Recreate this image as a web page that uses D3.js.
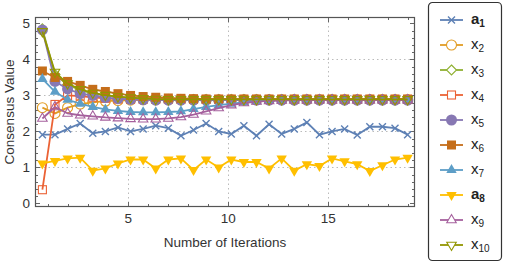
<!DOCTYPE html>
<html>
<head>
<meta charset="utf-8">
<script src="https://cdn.jsdelivr.net/npm/d3@7/dist/d3.min.js"></script>
<style>
  html, body { margin: 0; padding: 0; background: #fff; }
  svg { display: block; font-family: "Liberation Sans", Arial, sans-serif; }
</style>
</head>
<body>
<div id="chart"></div>
<script>
// x positions of the samples
var iterations = [0.7, 1.33, 1.96, 2.59, 3.22, 3.85, 4.48, 5.11, 5.74, 6.37, 7.0, 7.63, 8.26, 8.89, 9.52,
  10.15, 10.78, 11.41, 12.04, 12.67, 13.3, 13.93, 14.56, 15.19, 15.82, 16.45, 17.08, 17.71, 18.34, 18.97];

var a1 = [1.91, 1.91, 2.07, 2.22, 1.95, 2.0, 2.11, 2.0, 2.07, 2.16, 2.09, 1.88, 2.04, 2.22, 2.0,
  1.93, 2.16, 1.88, 2.2, 1.93, 2.07, 2.25, 1.91, 2.0, 2.07, 1.9, 2.13, 2.13, 2.09, 1.91];
var x2 = [2.66, 2.5, 2.66, 2.76, 2.81, 2.84, 2.86, 2.87, 2.88, 2.88, 2.88, 2.88, 2.88, 2.88, 2.88,
  2.88, 2.88, 2.88, 2.88, 2.88, 2.88, 2.88, 2.88, 2.88, 2.88, 2.88, 2.88, 2.88, 2.88, 2.88];
var x3 = [4.85, 3.58, 3.3, 3.15, 3.06, 3.0, 2.96, 2.93, 2.91, 2.9, 2.89, 2.89, 2.89, 2.89, 2.89,
  2.89, 2.89, 2.89, 2.89, 2.89, 2.89, 2.89, 2.89, 2.89, 2.89, 2.89, 2.89, 2.89, 2.89, 2.89];
var x4 = [0.38, 2.75, 3.0, 2.98, 2.95, 2.92, 2.9, 2.89, 2.89, 2.89, 2.89, 2.89, 2.89, 2.89, 2.89,
  2.89, 2.89, 2.89, 2.89, 2.89, 2.89, 2.89, 2.89, 2.89, 2.89, 2.89, 2.89, 2.89, 2.89, 2.89];
var x5 = [4.82, 3.39, 3.18, 3.05, 3.0, 2.94, 2.91, 2.89, 2.88, 2.87, 2.87, 2.87, 2.87, 2.87, 2.87,
  2.87, 2.87, 2.87, 2.87, 2.87, 2.87, 2.87, 2.87, 2.87, 2.87, 2.87, 2.87, 2.87, 2.87, 2.87];
var x6 = [3.68, 3.5, 3.39, 3.28, 3.17, 3.11, 3.05, 3.0, 2.97, 2.95, 2.93, 2.92, 2.91, 2.9, 2.9,
  2.9, 2.9, 2.9, 2.9, 2.9, 2.9, 2.9, 2.9, 2.9, 2.9, 2.9, 2.9, 2.9, 2.9, 2.9];
var x7 = [3.46, 3.1, 2.88, 2.77, 2.68, 2.61, 2.57, 2.54, 2.53, 2.53, 2.54, 2.56, 2.62, 2.68, 2.73,
  2.77, 2.81, 2.84, 2.86, 2.87, 2.87, 2.87, 2.87, 2.87, 2.87, 2.87, 2.87, 2.87, 2.87, 2.87];
var a8 = [1.11, 1.18, 1.25, 1.27, 0.91, 0.97, 1.11, 1.22, 1.22, 0.97, 1.22, 1.25, 0.93, 1.22, 1.0,
  1.22, 1.15, 1.15, 0.97, 1.25, 0.91, 1.09, 1.04, 1.25, 1.17, 1.09, 0.9, 1.06, 1.22, 1.27];
var x9 = [2.36, 2.68, 2.5, 2.45, 2.42, 2.39, 2.37, 2.35, 2.34, 2.34, 2.36, 2.4, 2.47, 2.56, 2.65,
  2.73, 2.79, 2.83, 2.85, 2.86, 2.87, 2.87, 2.87, 2.87, 2.87, 2.87, 2.87, 2.87, 2.87, 2.87];
var x10 = [4.78, 3.65, 3.33, 3.17, 3.07, 3.01, 2.97, 2.94, 2.92, 2.9, 2.89, 2.89, 2.89, 2.89, 2.89,
  2.89, 2.89, 2.89, 2.89, 2.89, 2.89, 2.89, 2.89, 2.89, 2.89, 2.89, 2.89, 2.89, 2.89, 2.89];

var seriesValues = [a1, x2, x3, x4, x5, x6, x7, a8, x9, x10];
var seriesNames = [['a', '1'], ['x', '2'], ['x', '3'], ['x', '4'], ['x', '5'], ['x', '6'], ['x', '7'], ['a', '8'], ['x', '9'], ['x', '10']];
var xTicks = [5, 10, 15];
var yTicks = [0, 1, 2, 3, 4, 5];

var colors = ['#5E81B5', '#E19C24', '#8FB032', '#EB6235', '#8778B3', '#C56E1A', '#5D9EC7', '#FFBF00', '#A5609D', '#929600'];
var markers = ['cross', 'ocircle', 'odiamond', 'osquare', 'circle', 'square', 'tri', 'dtri', 'otri', 'odtri'];

var W = 507, H = 266;
var L = 35, R = 415, T = 17, B = 207;

var svg = d3.select('#chart').append('svg').attr('width', W).attr('height', H);

var x = d3.scaleLinear().domain([0.33, 19.34]).range([L, R]);
var y = d3.scaleLinear().domain([-0.1, 5.18]).range([B, T]);

// grid
var grid = svg.append('g').attr('stroke', '#bbb').attr('stroke-width', 1).attr('stroke-dasharray', '1.5,3');
xTicks.forEach(function (t) {
  grid.append('line').attr('x1', Math.round(x(t)) + 0.5).attr('x2', Math.round(x(t)) + 0.5).attr('y1', T).attr('y2', B);
});
[1, 2, 3, 4].forEach(function (t) {
  grid.append('line').attr('y1', Math.round(y(t)) + 0.5).attr('y2', Math.round(y(t)) + 0.5).attr('x1', L).attr('x2', R);
});

// frame ticks (all four sides, pointing inwards)
var tk = svg.append('g').attr('stroke', '#666').attr('stroke-width', 1);
d3.range(1, 20).forEach(function (t) {
  var major = t % 5 === 0, len = major ? 5 : 3, px = Math.round(x(t)) + 0.5;
  tk.append('line').attr('x1', px).attr('x2', px).attr('y1', B).attr('y2', B - len);
  tk.append('line').attr('x1', px).attr('x2', px).attr('y1', T).attr('y2', T + len);
});
d3.range(0, 26).forEach(function (i) {
  var t = i * 0.2, major = i % 5 === 0, len = major ? 5 : 3, py = Math.round(y(t)) + 0.5;
  tk.append('line').attr('y1', py).attr('y2', py).attr('x1', L).attr('x2', L + len);
  tk.append('line').attr('y1', py).attr('y2', py).attr('x1', R).attr('x2', R - len);
});

svg.append('rect').attr('x', L + 0.5).attr('y', T + 0.5).attr('width', R - L - 1).attr('height', B - T - 1)
  .attr('fill', 'none').attr('stroke', '#555').attr('stroke-width', 1.2);

// tick labels
svg.append('g').selectAll('text').data(xTicks).join('text')
  .attr('x', function (d) { return x(d); }).attr('y', 223)
  .attr('text-anchor', 'middle').attr('font-size', 13.5).attr('fill', '#333')
  .text(function (d) { return d; });
svg.append('g').selectAll('text').data(yTicks).join('text')
  .attr('x', 30).attr('y', function (d) { return y(d) + 4.5; })
  .attr('text-anchor', 'end').attr('font-size', 13.5).attr('fill', '#333')
  .text(function (d) { return d; });

svg.append('text').attr('x', 225).attr('y', 247).attr('text-anchor', 'middle')
  .attr('font-size', 13.5).attr('fill', '#333').text('Number of Iterations');
svg.append('text').attr('transform', 'translate(14,112) rotate(-90)').attr('text-anchor', 'middle')
  .attr('font-size', 13.5).attr('fill', '#333').text('Consensus Value');

function drawMarker(g, type, color, openFill) {
  var sq = Math.sqrt(3);
  switch (type) {
    case 'cross':
      g.append('path').attr('d', 'M-3.5,-3.5L3.5,3.5M-3.5,3.5L3.5,-3.5').attr('stroke', color).attr('stroke-width', 1.4).attr('fill', 'none');
      break;
    case 'ocircle':
      g.append('circle').attr('r', 5).attr('fill', openFill).attr('stroke', color).attr('stroke-width', 1.1);
      break;
    case 'circle':
      g.append('circle').attr('r', 5.5).attr('fill', color);
      break;
    case 'osquare':
      g.append('rect').attr('x', -4).attr('y', -4).attr('width', 8).attr('height', 8).attr('fill', openFill).attr('stroke', color).attr('stroke-width', 1.1);
      break;
    case 'square':
      g.append('rect').attr('x', -4.5).attr('y', -4.5).attr('width', 9).attr('height', 9).attr('fill', color);
      break;
    case 'odiamond':
      g.append('path').attr('d', 'M0,-5L5,0L0,5L-5,0Z').attr('fill', openFill).attr('stroke', color).attr('stroke-width', 1.1);
      break;
    case 'tri':
      g.append('path').attr('d', 'M0,-6L' + (3 * sq) + ',3L' + (-3 * sq) + ',3Z').attr('fill', color);
      break;
    case 'dtri':
      g.append('path').attr('d', 'M0,6L' + (3 * sq) + ',-3L' + (-3 * sq) + ',-3Z').attr('fill', color);
      break;
    case 'otri':
      g.append('path').attr('d', 'M0,-5.5L' + (2.75 * sq) + ',2.75L' + (-2.75 * sq) + ',2.75Z').attr('fill', openFill).attr('stroke', color).attr('stroke-width', 1.1);
      break;
    case 'odtri':
      g.append('path').attr('d', 'M0,5.5L' + (2.75 * sq) + ',-2.75L' + (-2.75 * sq) + ',-2.75Z').attr('fill', openFill).attr('stroke', color).attr('stroke-width', 1.1);
      break;
  }
}

var line = d3.line().x(function (d, i) { return x(iterations[i]); }).y(function (d) { return y(d); });

var plot = svg.append('g');
seriesValues.forEach(function (vals, s) {
  var g = plot.append('g');
  g.append('path').attr('d', line(vals)).attr('fill', 'none').attr('stroke', colors[s]).attr('stroke-width', 1.8);
  vals.forEach(function (v, i) {
    var m = g.append('g').attr('transform', 'translate(' + x(iterations[i]) + ',' + y(v) + ')');
    drawMarker(m, markers[s], colors[s], 'none');
  });
});

// legend
var lg = svg.append('g');
lg.append('rect').attr('x', 428.5).attr('y', 2.5).attr('width', 73).attr('height', 258).attr('rx', 4)
  .attr('fill', '#fff').attr('stroke', '#333').attr('stroke-width', 1.2);
seriesNames.forEach(function (nm, s) {
  var cy = 20 + s * 25;
  var row = lg.append('g').attr('transform', 'translate(0,' + cy + ')');
  row.append('line').attr('x1', 440).attr('x2', 463).attr('y1', 0).attr('y2', 0).attr('stroke', colors[s]).attr('stroke-width', 1.8);
  drawMarker(row.append('g').attr('transform', 'translate(451.5,0)'), markers[s], colors[s], '#fff');
  var t = row.append('text').attr('x', 471).attr('y', 4).attr('font-size', 15).attr('fill', '#222');
  t.append('tspan').attr('font-weight', nm[0] === 'a' ? 'bold' : 'normal').text(nm[0]);
  t.append('tspan').attr('font-size', 10).attr('dy', 3).attr('font-weight', nm[0] === 'a' ? 'bold' : 'normal').text(nm[1]);
});
</script>
</body>
</html>
